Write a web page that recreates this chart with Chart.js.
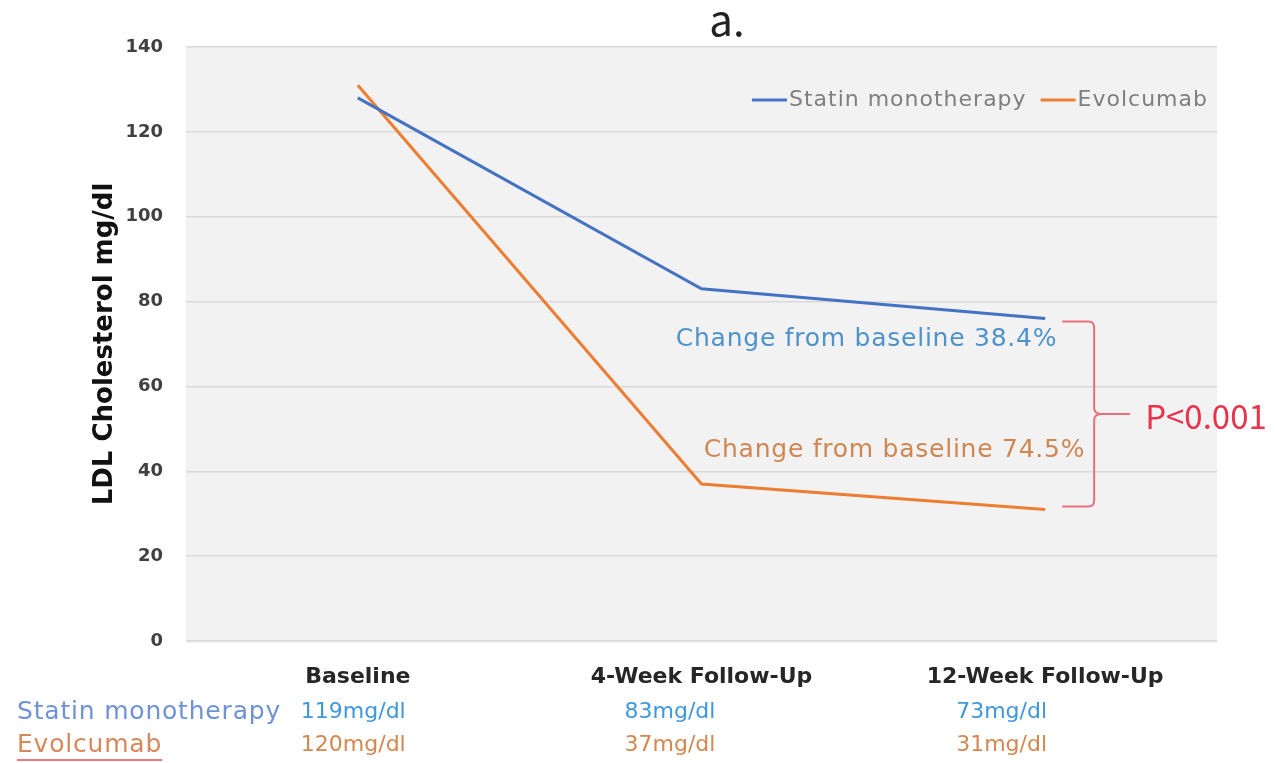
<!DOCTYPE html>
<html lang="en">
<head>
  <meta charset="UTF-8" />
  <title>LDL Cholesterol</title>
  <script src="https://cdn.jsdelivr.net/npm/chart.js"></script>
  <style>
    body { margin: 0; background: #fff; }
    #wrap { width: 1276px; height: 763px; }
  </style>
</head>
<body>
  <div id="wrap"><canvas id="chart" width="1276" height="763"></canvas></div>

  <script>
    // data
    const timepoints = ['Baseline', '4-Week Follow-Up', '12-Week Follow-Up'];
    const statin = [128, 83, 76];
    const evolcumab = [131, 37, 31];
    const yTicks = [0, 20, 40, 60, 80, 100, 120, 140];

    // table under the axis
    const statinText = ['119mg/dl', '83mg/dl', '73mg/dl'];
    const evoText = ['120mg/dl', '37mg/dl', '31mg/dl'];
    const statinChange = 'Change from baseline 38.4%';
    const evoChange = 'Change from baseline 74.5%';
    const pText = 'P<0.001';

    const FONT = "'DejaVu Sans', sans-serif";
    const NARROW = "'Noto Sans CJK JP', 'Noto Sans', sans-serif";
    const BLUE = '#4472c4';
    const ORANGE = '#ed7d31';

    const extras = {
      id: 'extras',
      beforeDraw(chart) {
        const a = chart.chartArea;
        const ctx = chart.ctx;
        ctx.save();
        ctx.fillStyle = '#f2f2f2';
        ctx.fillRect(a.left, a.top, a.right - a.left, a.bottom - a.top + 2);
        ctx.restore();
      },
      afterDraw(chart) {
        const ctx = chart.ctx;
        const a = chart.chartArea;
        const x = chart.scales.x;
        const y = chart.scales.y;
        ctx.save();

        // title
        ctx.fillStyle = '#222';
        ctx.font = '42px ' + NARROW;
        ctx.textAlign = 'center';
        ctx.textBaseline = 'middle';
        ctx.fillText('a.', 727, 20);

        // legend
        ctx.font = '22px ' + FONT;
        ctx.letterSpacing = '1px';
        ctx.textAlign = 'left';
        const items = chart.data.datasets.map(d => ({ label: d.label, color: d.borderColor }));
        const lineLen = 35, gap = 2, itemGap = 14;
        let total = 0;
        items.forEach((it, i) => {
          total += lineLen + gap + ctx.measureText(it.label).width + (i ? itemGap : 0);
        });
        let lx = a.right - 9 - total;
        const ly = 100;
        items.forEach((it, i) => {
          if (i) lx += itemGap;
          ctx.strokeStyle = it.color;
          ctx.lineWidth = 3;
          ctx.beginPath();
          ctx.moveTo(lx, ly);
          ctx.lineTo(lx + lineLen, ly);
          ctx.stroke();
          lx += lineLen + gap;
          ctx.fillStyle = '#7f7f7f';
          ctx.fillText(it.label, lx, ly);
          lx += ctx.measureText(it.label).width;
        });

        // change labels
        const x12 = x.getPixelForValue(2);
        ctx.font = '25px ' + FONT;
        ctx.letterSpacing = '0.75px';
        ctx.textAlign = 'right';
        ctx.fillStyle = '#4e92cc';
        ctx.fillText(statinChange, x12 + 12, y.getPixelForValue(71));
        ctx.fillStyle = '#cf8650';
        ctx.fillText(evoChange, x12 + 40, y.getPixelForValue(45));
        ctx.letterSpacing = '0px';

        // bracket
        const yTop = y.getPixelForValue(statin[2]) + 3;
        const yBot = y.getPixelForValue(evolcumab[2]) - 3;
        const yMid = (yTop + yBot) / 2;
        const bx0 = x12 + 17, bx1 = x12 + 49, tip = x12 + 57;
        ctx.strokeStyle = '#e8707e';
        ctx.lineWidth = 2;
        ctx.beginPath();
        ctx.moveTo(bx0, yTop);
        ctx.lineTo(bx1 - 6, yTop);
        ctx.quadraticCurveTo(bx1, yTop, bx1, yTop + 6);
        ctx.lineTo(bx1, yMid - 6);
        ctx.quadraticCurveTo(bx1, yMid, tip, yMid);
        ctx.quadraticCurveTo(bx1, yMid, bx1, yMid + 6);
        ctx.lineTo(bx1, yBot - 6);
        ctx.quadraticCurveTo(bx1, yBot, bx1 - 6, yBot);
        ctx.lineTo(bx0, yBot);
        ctx.moveTo(tip, yMid);
        ctx.lineTo(tip + 28, yMid);
        ctx.stroke();

        ctx.fillStyle = '#e8334a';
        ctx.font = '33px ' + NARROW;
        ctx.textAlign = 'left';
        ctx.fillText(pText, tip + 43, yMid + 2);

        // table rows
        const rowY = [712, 745];
        ctx.font = '25px ' + FONT;
        ctx.letterSpacing = '0.8px';
        ctx.textAlign = 'left';
        ctx.fillStyle = '#6f92d6';
        ctx.fillText('Statin monotherapy', 17, rowY[0]);
        ctx.fillStyle = '#d8875a';
        ctx.fillText('Evolcumab', 17, rowY[1]);
        const w = ctx.measureText('Evolcumab').width;
        ctx.strokeStyle = '#ea7c88';
        ctx.lineWidth = 2;
        ctx.beginPath();
        ctx.moveTo(17, 760);
        ctx.lineTo(17 + w, 760);
        ctx.stroke();
        ctx.letterSpacing = '0px';

        ctx.font = '22px ' + FONT;
        const shift = [-57, -77, -89];
        timepoints.forEach((t, i) => {
          const px = x.getPixelForValue(i) + shift[i];
          ctx.fillStyle = '#3f97dc';
          ctx.fillText(statinText[i], px, rowY[0]);
          ctx.fillStyle = '#d4874f';
          ctx.fillText(evoText[i], px, rowY[1]);
        });
        ctx.restore();
      }
    };

    new Chart(document.getElementById('chart'), {
      type: 'line',
      data: {
        labels: timepoints,
        datasets: [
          { label: 'Statin monotherapy', data: statin, borderColor: BLUE, backgroundColor: BLUE, borderWidth: 3, pointRadius: 0, tension: 0 },
          { label: 'Evolcumab', data: evolcumab, borderColor: ORANGE, backgroundColor: ORANGE, borderWidth: 3, pointRadius: 0, tension: 0 }
        ]
      },
      options: {
        responsive: false,
        devicePixelRatio: 1,
        animation: false,
        layout: { padding: { left: 88, right: 59, top: 47, bottom: 62 } },
        plugins: {
          legend: { display: false },
          tooltip: { enabled: false }
        },
        scales: {
          x: {
            offset: true,
            grid: { display: false },
            border: { display: false },
            ticks: { color: '#262626', padding: 15, font: { family: FONT, size: 22, weight: 'bold' } },
            afterFit: s => { s.height = 60; }
          },
          y: {
            min: 0,
            max: 140,
            afterBuildTicks: s => { s.ticks = yTicks.map(v => ({ value: v })); },
            grid: { color: '#d9d9d9', lineWidth: 1.5, drawTicks: false },
            border: { display: false },
            ticks: { color: '#404040', padding: 23, font: { family: FONT, size: 18, weight: 'bold' } },
            title: { display: true, text: 'LDL Cholesterol mg/dl', color: '#111', font: { family: FONT, size: 26, weight: 'bold' }, padding: 2 },
            afterFit: s => { s.width = 98; }
          }
        }
      },
      plugins: [extras]
    });
  </script>
</body>
</html>
